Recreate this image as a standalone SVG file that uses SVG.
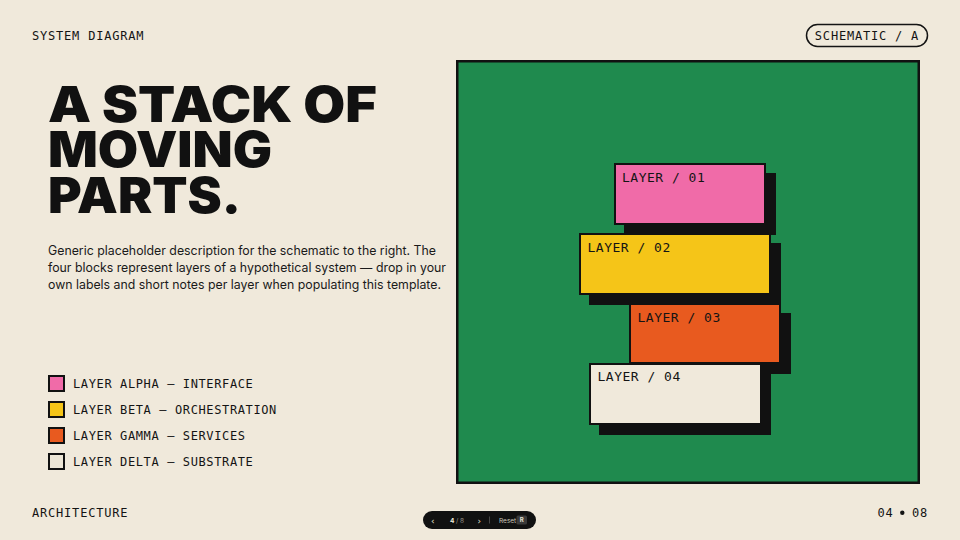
<svg xmlns="http://www.w3.org/2000/svg" width="960" height="540" viewBox="0 0 960 540">
<style>
.mono{font-family:"DejaVu Sans Mono","Liberation Mono",monospace;fill:#141414}
.lbl{font-size:12px;letter-spacing:0.8px}
.leg{font-size:12px;letter-spacing:0.62px}
.blk{font-size:13px;letter-spacing:0.5px}
.title{font-family:Inter,"Liberation Sans",sans-serif;font-weight:900;font-size:49px;fill:#111}
.desc{font-family:Inter,"Liberation Sans",sans-serif;font-size:12.5px;fill:#1a1a1a}
.box{stroke:#111;stroke-width:2}
.shadow{fill:#111}
</style>
<rect width="960" height="540" fill="#F0E9DB"/>

<g id="header">
<text class="mono lbl" x="32" y="40">SYSTEM DIAGRAM</text>
<rect x="806.5" y="24.5" width="121" height="22" rx="11" fill="none" stroke="#141414" stroke-width="1.5"/>
<text class="mono lbl" x="867" y="40" text-anchor="middle" letter-spacing="0.75">SCHEMATIC / A</text>
</g>

<g id="title">
<text class="title" x="48" y="121.5" textLength="329" lengthAdjust="spacingAndGlyphs">A STACK OF</text>
<text class="title" x="48" y="166.5" textLength="224" lengthAdjust="spacingAndGlyphs">MOVING</text>
<text class="title" x="48" y="212.5" textLength="193" lengthAdjust="spacingAndGlyphs">PARTS.</text>
</g>

<g id="description">
<text class="desc" x="48" y="255" textLength="388" lengthAdjust="spacingAndGlyphs">Generic placeholder description for the schematic to the right. The</text>
<text class="desc" x="48" y="272" textLength="398" lengthAdjust="spacingAndGlyphs">four blocks represent layers of a hypothetical system — drop in your</text>
<text class="desc" x="48" y="289" textLength="393" lengthAdjust="spacingAndGlyphs">own labels and short notes per layer when populating this template.</text>
</g>

<g id="legend">
<rect class="box" x="49" y="376" width="15" height="15" fill="#F06BA8"/>
<text class="mono leg" x="73" y="388">LAYER ALPHA — INTERFACE</text>
<rect class="box" x="49" y="402" width="15" height="15" fill="#F5C518"/>
<text class="mono leg" x="73" y="414">LAYER BETA — ORCHESTRATION</text>
<rect class="box" x="49" y="428" width="15" height="15" fill="#E85A1F"/>
<text class="mono leg" x="73" y="440">LAYER GAMMA — SERVICES</text>
<rect class="box" x="49" y="454" width="15" height="15" fill="#EDE6D6"/>
<text class="mono leg" x="73" y="466">LAYER DELTA — SUBSTRATE</text>
</g>

<g id="panel">
<rect x="457.25" y="61.25" width="461.5" height="421.5" fill="#1F8A4E" stroke="#111" stroke-width="2.5"/>
</g>

<g id="layer-01">
<rect class="shadow" x="624" y="173" width="152" height="62"/>
<rect class="box" x="615" y="164" width="150" height="60" fill="#F06BA8"/>
<text class="mono blk" x="622" y="181.5">LAYER / 01</text>
</g>
<g id="layer-02">
<rect class="shadow" x="589" y="243" width="192" height="62"/>
<rect class="box" x="580" y="234" width="190" height="60" fill="#F5C518"/>
<text class="mono blk" x="587.5" y="251.5">LAYER / 02</text>
</g>
<g id="layer-03">
<rect class="shadow" x="639" y="313" width="152" height="61"/>
<rect class="box" x="630" y="304" width="150" height="59" fill="#E85A1F"/>
<text class="mono blk" x="637.5" y="321.5">LAYER / 03</text>
</g>
<g id="layer-04">
<rect class="shadow" x="599" y="373" width="172" height="62"/>
<rect class="box" x="590" y="364" width="171" height="60" fill="#F0E9DB"/>
<text class="mono blk" x="597.5" y="381">LAYER / 04</text>
</g>

<g id="connectors"></g>

<g id="footer">
<text class="mono lbl" x="32" y="517" letter-spacing="0.65">ARCHITECTURE</text>
<text class="mono lbl" x="877.5" y="517" letter-spacing="0">04</text>
<circle cx="902.3" cy="512.8" r="2.2" fill="#141414"/>
<text class="mono lbl" x="912" y="517" letter-spacing="0">08</text>
</g>

<g id="nav">
<rect x="423" y="511" width="113" height="18" rx="9" fill="#111"/>
<text x="431" y="523.5" font-family="DejaVu Sans,sans-serif" font-size="9" fill="#e8e2d4">‹</text>
<text x="450" y="522.5" font-family="Inter,sans-serif" font-size="6.5" font-weight="700" fill="#f0e9db">4 <tspan font-weight="400" fill="#9a958c">/ 8</tspan></text>
<text x="477.5" y="523.5" font-family="DejaVu Sans,sans-serif" font-size="9" fill="#e8e2d4">›</text>
<line x1="489.5" y1="516.5" x2="489.5" y2="523.5" stroke="#555" stroke-width="0.8"/>
<text x="499" y="522.5" font-family="Inter,sans-serif" font-size="6.5" fill="#cfc9bc">Reset</text>
<rect x="516.5" y="515.5" width="10.5" height="9" rx="1.5" fill="#3a3a3a"/>
<text x="521.75" y="522.3" text-anchor="middle" font-family="Inter,sans-serif" font-size="6" font-weight="700" fill="#e8e2d4">R</text>
</g>
</svg>
